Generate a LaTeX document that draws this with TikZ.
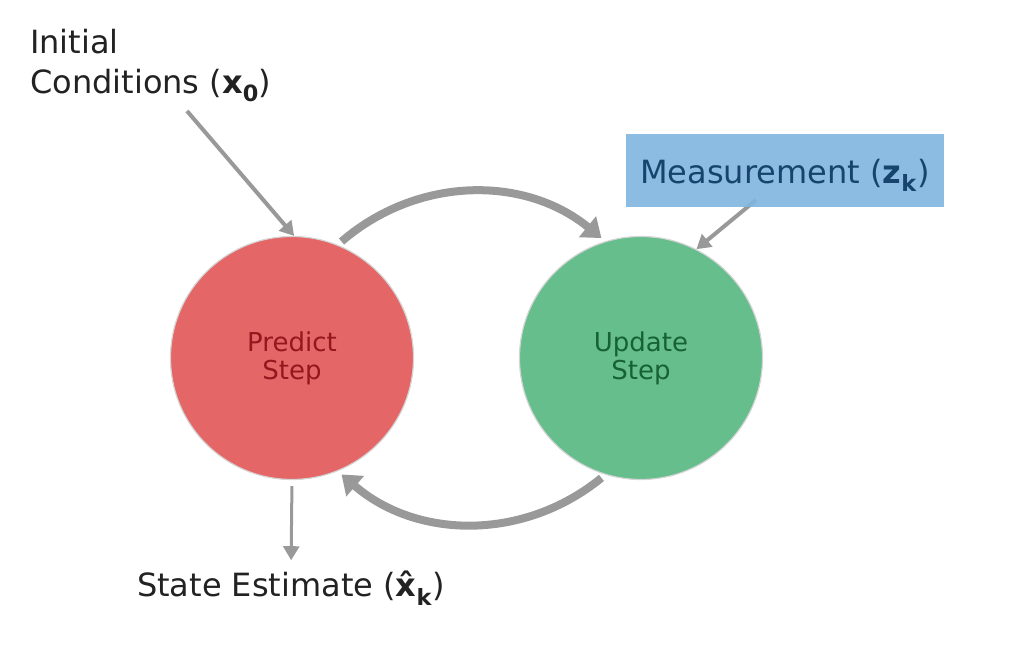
\documentclass[tikz,border=0pt]{standalone}
\usepackage{fontspec}
\setmainfont{DejaVu Sans}
\usetikzlibrary{arrows.meta,positioning}

\definecolor{predictred}{RGB}{229,102,102}
\definecolor{predicttext}{RGB}{150,22,30}
\definecolor{updategreen}{RGB}{101,190,140}
\definecolor{updatetext}{RGB}{22,98,52}
\definecolor{measblue}{RGB}{127,181,222}
\definecolor{meastext}{RGB}{22,68,108}
\definecolor{arrowgray}{RGB}{153,153,153}
\definecolor{edgegray}{RGB}{212,212,212}
\definecolor{textgray}{RGB}{34,34,34}

\begin{document}
\begin{tikzpicture}[x=1pt,y=1pt,
    stepnode/.style={circle,
                     minimum size=243pt,
                     inner sep=0pt,
                     draw=edgegray,
                     line width=1.2pt,
                     align=center,
                     text depth=4pt,
                     font=\fontsize{26}{28}\selectfont},
    looparrow/.style={draw=arrowgray,
                      line width=8pt,
                      shorten <=5pt,
                      shorten >=5pt,
                      -{Triangle[length=18pt,width=26pt]}},
    feedarrow/.style={draw=arrowgray,
                      line width=4pt,
                      -{Triangle[length=14pt,width=16pt]}},
    txt/.style={inner sep=0pt,
                text=textgray,
                font=\fontsize{32}{40}\selectfont}]
    \useasboundingbox (0,0) rectangle (1009,668);
%    \draw (0,0) rectangle (1009,668);

    % the two steps
    \node[stepnode, fill=predictred, text=predicttext] (predict) at (292,310) {Predict\\Step};
    \node[stepnode, fill=updategreen, text=updatetext] (update) at (641,310) {Update\\Step};

    % texts
    \node[txt, anchor=north west, align=left] (init) at (30,639)
        {Initial\\Conditions (\textbf{x}\textsubscript{\textbf{0}})};
    \node[txt, anchor=base] (est) at (291,71)
        {State Estimate (\textbf{\^{x}}\textsubscript{\textbf{k}})};
    \coordinate (x0from) at (187,557);
    \coordinate (zfrom) at (756,468);

    % loop between the steps
    \draw[looparrow] (predict.68) to[bend left=40] (update.107);
    \draw[looparrow] (update.253) to[bend left=40] (predict.292);

    % inputs and output
    \draw[feedarrow] (x0from) -- (predict.89);
    \draw[feedarrow] (zfrom) -- (update.63);
    \draw[feedarrow,
          line width=3pt,
          shorten <=6pt,
          shorten >=11pt] (predict.south) -- (est.north);

    \node[fill=measblue,
          fill opacity=0.9,
          text opacity=1,
          text=meastext,
          minimum width=318pt,
          minimum height=73pt,
          text height=26pt,
          text depth=0pt,
          font=\fontsize{32}{40}\selectfont] (meas) at (785,497.5)
        {Measurement (\textbf{z}\textsubscript{\textbf{k}})};
\end{tikzpicture}
\end{document}
